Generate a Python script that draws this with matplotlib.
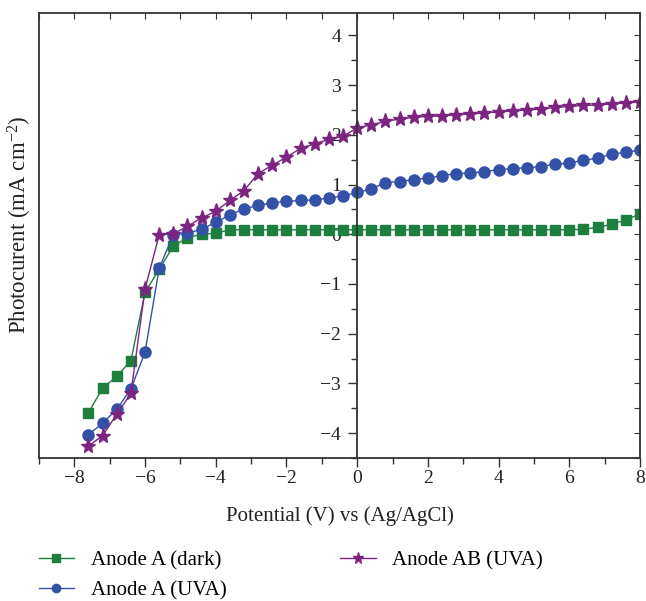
import matplotlib
matplotlib.use("Agg")
import matplotlib.pyplot as plt
from matplotlib.ticker import MultipleLocator

plt.rcParams['font.family'] = ['Liberation Serif', 'DejaVu Serif']
plt.rcParams['mathtext.fontset'] = 'custom'
plt.rcParams['mathtext.rm'] = 'Liberation Serif'
plt.rcParams['mathtext.it'] = 'Liberation Serif:italic'

potential = [-7.6, -7.2, -6.8, -6.4, -6.0, -5.6, -5.2, -4.8, -4.4, -4.0,
             -3.6, -3.2, -2.8, -2.4, -2.0, -1.6, -1.2, -0.8, -0.4, 0.0,
             0.4, 0.8, 1.2, 1.6, 2.0, 2.4, 2.8, 3.2, 3.6, 4.0,
             4.4, 4.8, 5.2, 5.6, 6.0, 6.4, 6.8, 7.2, 7.6, 8.0]

dark_a = [-3.59, -3.09, -2.86, -2.54, -1.17, -0.70, -0.24, -0.07, 0.00, 0.02,
          0.09, 0.09, 0.09, 0.09, 0.09, 0.09, 0.09, 0.09, 0.09, 0.09,
          0.09, 0.09, 0.09, 0.09, 0.09, 0.09, 0.09, 0.09, 0.09, 0.09,
          0.09, 0.09, 0.09, 0.09, 0.09, 0.10, 0.14, 0.20, 0.29, 0.41]

uva_a = [-4.03, -3.80, -3.52, -3.11, -2.37, -0.68, -0.01, 0.02, 0.10, 0.24,
         0.39, 0.51, 0.58, 0.63, 0.66, 0.68, 0.69, 0.73, 0.77, 0.84,
         0.91, 1.04, 1.06, 1.10, 1.13, 1.18, 1.22, 1.23, 1.26, 1.30,
         1.32, 1.34, 1.36, 1.41, 1.43, 1.49, 1.53, 1.61, 1.65, 1.69]

uva_ab = [-4.26, -4.05, -3.62, -3.20, -1.10, -0.01, 0.01, 0.16, 0.33, 0.46,
          0.68, 0.88, 1.22, 1.39, 1.55, 1.73, 1.82, 1.91, 1.97, 2.14,
          2.20, 2.27, 2.32, 2.35, 2.37, 2.38, 2.40, 2.42, 2.44, 2.46,
          2.48, 2.50, 2.52, 2.55, 2.57, 2.59, 2.60, 2.62, 2.64, 2.66]

green = '#1e7e3e'
blue = '#3451a8'
purple = '#7b2581'

fig = plt.figure(figsize=(6.46, 6.01), dpi=100)
ax = fig.add_axes([39 / 646, 1 - 458 / 601, 601 / 646, 445 / 601])

ax.plot(potential, dark_a, '-s', color=green, lw=1.0, ms=7, label='Anode A (dark)')
ax.plot(potential, uva_a, '-o', color=blue, lw=1.0, ms=8, label='Anode A (UVA)')
ax.plot(potential, uva_ab, '-*', color=purple, lw=1.0, ms=11, label='Anode AB (UVA)')

ax.set_xlim(-9, 8)
ax.set_ylim(-4.5, 4.45)

spine_c = '#333333'
for s in ax.spines.values():
    s.set_color(spine_c)
    s.set_linewidth(1.3)
ax.spines['left'].set_position(('data', 0))
# left frame edge, since the y spine sits at x = 0
ax.plot([0, 0], [0, 1], transform=ax.transAxes, color=spine_c, lw=1.3, clip_on=False)

ax.xaxis.set_major_locator(MultipleLocator(2))
ax.xaxis.set_minor_locator(MultipleLocator(1))
ax.yaxis.set_major_locator(MultipleLocator(1))
ax.yaxis.set_minor_locator(MultipleLocator(0.5))
ax.tick_params(which='both', direction='out', colors=spine_c, labelcolor='#222222',
               labelsize=14, width=1.0)
ax.tick_params(which='major', length=6.5)
ax.tick_params(which='minor', length=4.5)
ax.tick_params(axis='y', pad=5)
ax.tick_params(axis='x', pad=2)

top = ax.secondary_xaxis('top')
top.xaxis.set_major_locator(MultipleLocator(1))
top.tick_params(direction='in', length=4, colors=spine_c, labeltop=False)
top.spines['top'].set_visible(False)
right = ax.secondary_yaxis('right')
right.yaxis.set_major_locator(MultipleLocator(0.5))
right.tick_params(direction='in', length=4, colors=spine_c, labelright=False)
right.spines['right'].set_visible(False)

ax.set_xlabel('Potential (V) vs (Ag/AgCl)', fontsize=15, color='#222222', labelpad=14)
fig.text(20 / 646, 1 - 225 / 601, 'Photocurent (mA cm$^{-2}$)', rotation=90,
         ha='center', va='center', fontsize=16.5, color='#222222')

fig.legend(loc='upper left', bbox_to_anchor=(20 / 646, 1 - 532 / 601), ncol=2,
           frameon=False, fontsize=15, handlelength=1.7, handletextpad=0.8,
           columnspacing=5.45, labelspacing=0.5, markerscale=0.75)

fig.savefig('out.png', dpi=100)
